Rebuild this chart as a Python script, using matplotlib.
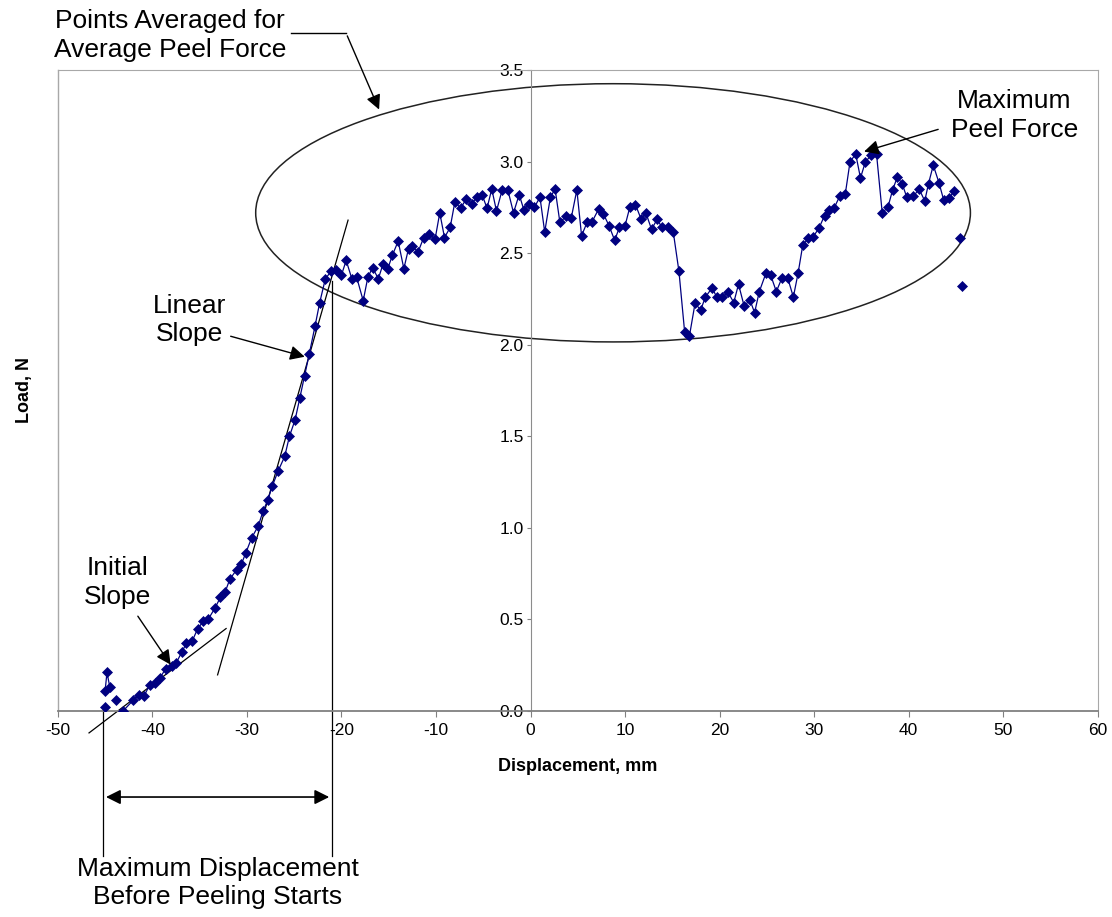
import numpy as np
import matplotlib
matplotlib.use("Agg")
import matplotlib.pyplot as plt
from matplotlib.patches import Ellipse

plt.rcParams['font.family'] = ['Liberation Sans', 'DejaVu Sans']

# peel test data (displacement mm, load N); nan marks a gap in the trace
disp = [-45.0, np.nan, -45.0, -44.8, -44.5, np.nan, -43.8, np.nan,
        -43.1, -42.0, -41.4, -40.9, -40.3, -39.7, -39.2, -38.6, -37.9, -37.5,
        -36.9, -36.4, -35.8, -35.2, -34.6, -34.1, -33.4, -32.8, -32.3, -31.8,
        -31.1, -30.6, -30.1, -29.5, -28.8, -28.3, -27.8, -27.3, -26.7, -26.0,
        -25.5, -24.9, -24.4, -23.9, -23.4, -22.8, -22.3, -21.7, -21.1, -20.6,
        -20.0, -19.5, -18.9, -18.4, -17.7, -17.2, -16.7, -16.1, -15.6, -15.1,
        -14.6, -14.0, -13.4, -12.9, -12.5, -11.9, -11.3, -10.7, -10.1, -9.6,
        -9.1, -8.5, -8.0, -7.4, -6.8, -6.2, -5.7, -5.1, -4.6, -4.1, -3.6,
        -3.0, -2.4, -1.8, -1.2, -0.7, -0.2, 0.4, 1.0, 1.5, 2.1, 2.6, 3.1,
        3.8, 4.3, 4.9, 5.4, 6.0, 6.5, 7.2, 7.7, 8.3, 8.9, 9.4, 10.0, 10.5,
        11.1, 11.7, 12.2, 12.8, 13.4, 13.9, 14.5, 15.1, 15.7, 16.3, 16.8,
        17.4, 18.0, 18.5, 19.2, 19.7, 20.3, 20.9, 21.5, 22.0, 22.6, 23.2,
        23.7, 24.2, 24.9, 25.4, 26.0, 26.6, 27.2, 27.8, 28.3, 28.8, 29.4,
        29.9, 30.5, 31.1, 31.6, 32.1, 32.7, 33.3, 33.8, 34.4, 34.9, 35.4,
        36.0, 36.6, 37.2, 37.8, 38.3, 38.8, 39.3, 39.8, 40.5, 41.1, 41.7,
        42.1, 42.6, 43.2, 43.7, 44.3, 44.8, np.nan, 45.4, np.nan, 45.6]
load = [0.02, np.nan, 0.11, 0.21, 0.13, np.nan, 0.06, np.nan,
        0.00, 0.06, 0.085, 0.08, 0.14, 0.155, 0.18, 0.23, 0.245, 0.26,
        0.32, 0.37, 0.38, 0.45, 0.49, 0.50, 0.56, 0.62, 0.65, 0.72,
        0.77, 0.80, 0.865, 0.945, 1.01, 1.09, 1.15, 1.23, 1.31, 1.39,
        1.50, 1.59, 1.71, 1.83, 1.95, 2.10, 2.23, 2.36, 2.40, 2.41,
        2.38, 2.46, 2.36, 2.37, 2.24, 2.37, 2.42, 2.36, 2.44, 2.415,
        2.49, 2.565, 2.415, 2.525, 2.54, 2.505, 2.585, 2.605, 2.575, 2.72,
        2.585, 2.64, 2.78, 2.745, 2.795, 2.77, 2.805, 2.815, 2.745, 2.85, 2.73,
        2.845, 2.845, 2.72, 2.82, 2.735, 2.77, 2.75, 2.805, 2.615, 2.805, 2.85, 2.67,
        2.70, 2.69, 2.845, 2.595, 2.67, 2.67, 2.74, 2.715, 2.65, 2.57, 2.64, 2.65, 2.75,
        2.765, 2.685, 2.72, 2.63, 2.685, 2.64, 2.645, 2.615, 2.40, 2.07, 2.045,
        2.225, 2.19, 2.26, 2.31, 2.26, 2.26, 2.285, 2.23, 2.33, 2.21, 2.245,
        2.175, 2.29, 2.39, 2.38, 2.29, 2.365, 2.365, 2.26, 2.39, 2.545, 2.58,
        2.59, 2.635, 2.705, 2.735, 2.745, 2.81, 2.825, 3.00, 3.04, 2.91, 2.995,
        3.035, 3.04, 2.72, 2.75, 2.845, 2.915, 2.88, 2.805, 2.81, 2.85, 2.785,
        2.88, 2.98, 2.885, 2.79, 2.80, 2.84, np.nan, 2.585, np.nan, 2.32]

x_ticks = [-50, -40, -30, -20, -10, 0, 10, 20, 30, 40, 50, 60]
y_ticks = [0.0, 0.5, 1.0, 1.5, 2.0, 2.5, 3.0, 3.5]

# hand drawn construction lines (displacement, load)
initial_slope = ([-46.7, -32.2], [-0.12, 0.45])
linear_slope = ([-33.1, -19.3], [0.197, 2.68])
peel_start = -21.0
test_start = -45.2

fig = plt.figure(figsize=(11.12, 9.17), dpi=100)
ax = fig.add_axes([0.052, 0.2247, 0.9352, 0.699])

ax.plot(disp, load, color='#000080', lw=0.9, marker='D', markersize=5.5,
        markeredgewidth=0.5, zorder=3)

ax.set_xlim(-50, 60)
ax.set_ylim(0, 3.5)
ax.set_xticks(x_ticks)
ax.set_xticklabels([str(t) for t in x_ticks])
ax.set_yticks(y_ticks)
ax.set_yticklabels(['%.1f' % t for t in y_ticks])

ax.spines['left'].set_position(('data', 0))
ax.spines['left'].set_color('#8c8c8c')
ax.spines['bottom'].set_color('#808080')
ax.spines['bottom'].set_linewidth(1.3)
for s in ['top', 'right']:
    ax.spines[s].set_color('#a8a8a8')
# plot area border on the left
ax.axvline(-50, color='#a8a8a8', lw=1, clip_on=False)
ax.tick_params(axis='x', direction='out', length=4, color='#808080',
               labelsize=12.5, pad=5)
ax.tick_params(axis='y', direction='out', length=3, color='#808080',
               labelsize=12.5, pad=2)

ax.set_xlabel('Displacement, mm', fontsize=13, fontweight='bold', labelpad=14)
ax.set_ylabel('Load, N', fontsize=13, fontweight='bold')
ax.yaxis.set_label_coords(-0.024, 0.5)

# construction lines
ax.plot(*initial_slope, color='black', lw=0.9, clip_on=False)
ax.plot(*linear_slope, color='black', lw=0.9, clip_on=False)
ax.plot([peel_start, peel_start], [2.35, -0.79], color='black', lw=0.9,
        clip_on=False)
ax.plot([test_start, test_start], [0.02, -0.79], color='black', lw=0.9,
        clip_on=False)
ax.annotate('', xy=(test_start, -0.47), xytext=(peel_start, -0.47),
            annotation_clip=False,
            arrowprops=dict(arrowstyle='<|-|>', color='black', lw=1.2,
                            mutation_scale=22))

ax.add_patch(Ellipse((8.73, 2.72), 75.6, 1.41, fill=False, edgecolor='#222222',
                     lw=1.1, clip_on=False))

arrow = dict(arrowstyle='-|>', color='black', lw=1.0, mutation_scale=22)
fs = 19
ls = 1.25

ax.text(-38.1, 3.69, 'Points Averaged for\nAverage Peel Force', fontsize=fs,
        ha='center', va='center', linespacing=ls, clip_on=False)
ax.plot([-25.3, -19.5], [3.70, 3.70], color='black', lw=1.0, clip_on=False)
ax.annotate('', xy=(-15.9, 3.27), xytext=(-19.5, 3.70), annotation_clip=False,
            arrowprops=arrow)

ax.text(51.2, 3.25, 'Maximum\nPeel Force', fontsize=fs, ha='center',
        va='center', linespacing=ls)
ax.annotate('', xy=(35.0, 3.05), xytext=(43.4, 3.18), arrowprops=arrow)

ax.text(-36.1, 2.135, 'Linear\nSlope', fontsize=fs, ha='center', va='center',
        linespacing=ls)
ax.annotate('', xy=(-23.6, 1.93), xytext=(-32.0, 2.05), arrowprops=arrow)

ax.text(-43.7, 0.70, 'Initial\nSlope', fontsize=fs, ha='center', va='center',
        linespacing=ls)
ax.annotate('', xy=(-37.9, 0.24), xytext=(-41.7, 0.53), arrowprops=arrow)

ax.text(-33.1, -0.94, 'Maximum Displacement\nBefore Peeling Starts',
        fontsize=fs, ha='center', va='center', linespacing=ls, clip_on=False)

fig.savefig('out.png', dpi=100)
